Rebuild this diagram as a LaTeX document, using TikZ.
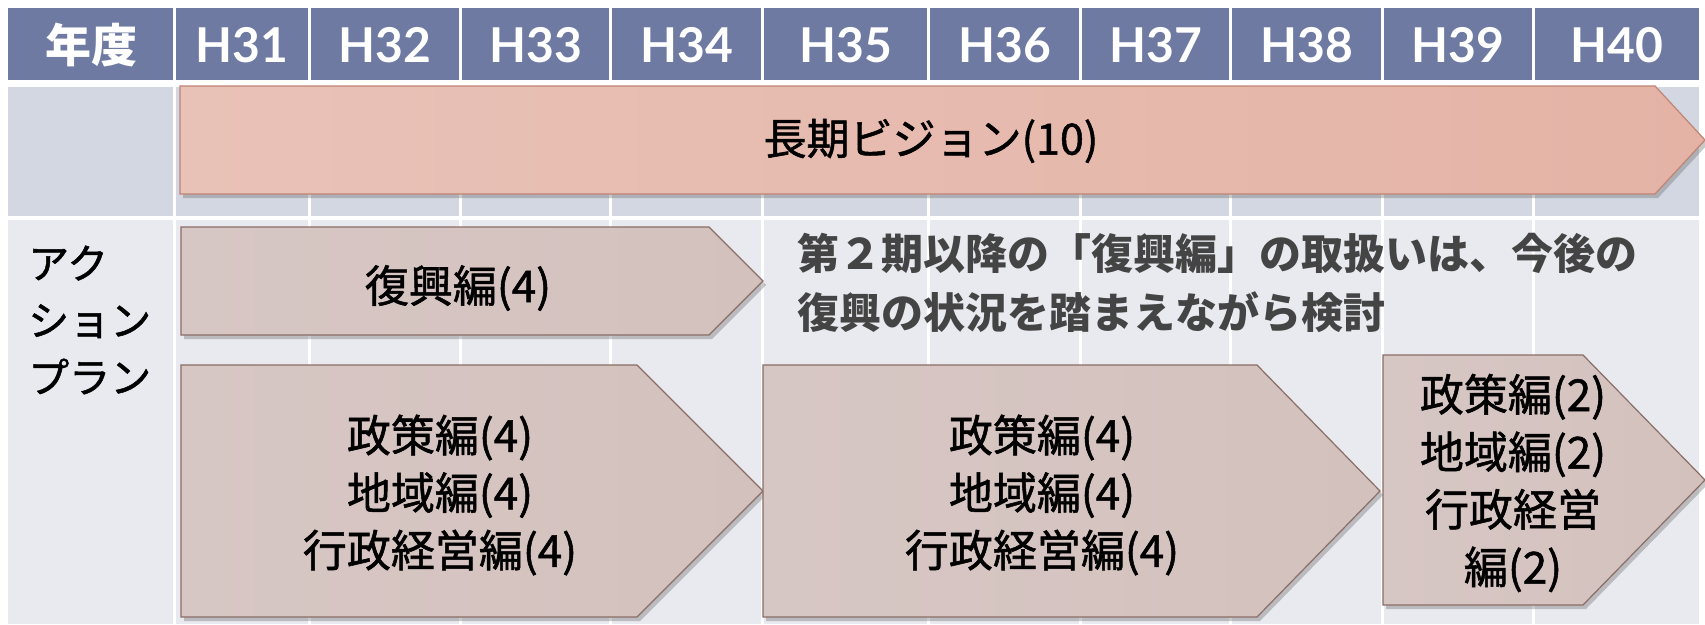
\documentclass[tikz,border=0pt]{standalone}
\usepackage{fontspec}
\usetikzlibrary{shadows}
\newfontfamily\jp{Noto Sans CJK JP}
\newfontfamily\jpm{Noto Sans CJK JP}[FakeBold=1.2]
\newfontfamily\lato{Lato}
\definecolor{hdr}{HTML}{6F7AA2}
\definecolor{rowa}{HTML}{D3D7E1}
\definecolor{rowb}{HTML}{E9EAEF}
\definecolor{visL}{HTML}{E9C2B7}
\definecolor{visM}{HTML}{E1A999}
\definecolor{visR}{HTML}{E4B3A6}
\definecolor{visE}{HTML}{BF8474}
\definecolor{actL}{HTML}{D7C7C4}
\definecolor{actM}{HTML}{C1A8A1}
\definecolor{actR}{HTML}{D3C1BD}
\definecolor{actE}{HTML}{8A6D66}
\definecolor{notec}{HTML}{444444}
\begin{document}
\begin{tikzpicture}[x=1pt,y=-1pt,
  hdrtext/.style={text=white,inner sep=0pt,font={\lato\bfseries\fontsize{48pt}{50pt}\selectfont}},
  hdrjp/.style={text=white,inner sep=0pt,font={\jp\bfseries\fontsize{46pt}{50pt}\selectfont}},
  jptext/.style={text=black,inner sep=0pt,align=center,font={\jpm\fontsize{44pt}{57.5pt}\selectfont}},
  sidetext/.style={text=black,inner sep=0pt,align=left,font={\jpm\fontsize{41pt}{57pt}\selectfont}},
  notetext/.style={text=notec,inner sep=0pt,font={\jp\bfseries\fontsize{42pt}{58pt}\selectfont}},
  visarrow/.style={draw=visE,line width=1.2pt,left color=visL,middle color=visM,right color=visR,
     drop shadow={shadow xshift=3pt,shadow yshift=-4pt,opacity=0.35,fill=black!60}},
  actarrow/.style={draw=actE,line width=1.2pt,left color=actL,middle color=actM,right color=actR,
     drop shadow={shadow xshift=3pt,shadow yshift=-4pt,opacity=0.35,fill=black!60}}]
\useasboundingbox (0,0) rectangle (1705,624);
\fill[white] (0,0) rectangle (1705,624);
% header and background cells
\fill[hdr] (8,8) rectangle (173,80);
\fill[rowa] (8,87) rectangle (173,216);
\fill[rowb] (8,220) rectangle (173,624);
\node[hdrjp] (nendo) at (91,45) {年度};
\foreach \a/\b/\t in {176/308/H31,311/459/H32,462/609/H33,612/761/H34,764/927/H35,930/1079/H36,1082/1229/H37,1232/1381/H38,1384/1532/H39,1535/1699/H40}{
  \fill[hdr] (\a,8) rectangle (\b,80);
  \fill[rowa] (\a,87) rectangle (\b,216);
  \fill[rowb] (\a,220) rectangle (\b,624);
  \node[hdrtext] (\t) at ({(\a+\b)/2},45) {\t};
}
% vision arrow
\draw[visarrow] (180,86) -- (1655,86) -- (1705,140) -- (1655,194) -- (180,194) -- cycle;
\node[jptext,font={\jpm\fontsize{43pt}{50pt}\selectfont}] (vision) at (931,141) {長期ビジョン(10)};
% side label
\node[sidetext,anchor=west] (ap) at (28,320) {アク\\ション\\プラン};
% action plan arrows
\draw[actarrow] (181,227) -- (709,227) -- (763,281) -- (709,335) -- (181,335) -- cycle;
\node[jptext] (fukko) at (458,288) {復興編(4)};
\draw[actarrow] (181,365) -- (637,365) -- (763,491) -- (637,617) -- (181,617) -- cycle;
\node[jptext] (plan1) at (440,495) {政策編(4)\\地域編(4)\\行政経営編(4)};
\draw[actarrow] (763,365) -- (1257,365) -- (1380,491) -- (1257,617) -- (763,617) -- cycle;
\node[jptext] (plan2) at (1042,495) {政策編(4)\\地域編(4)\\行政経営編(4)};
\draw[actarrow] (1383,355) -- (1583,355) -- (1705,480) -- (1583,605) -- (1383,605) -- cycle;
\node[jptext] (plan3) at (1513,483) {政策編(2)\\地域編(2)\\行政経営\\編(2)};
% note
\node[notetext,anchor=west] (note1) at (797,253) {第２期以降の「復興編」の取扱いは、今後の};
\node[notetext,anchor=west] (note2) at (797,312) {復興の状況を踏まえながら検討};
\end{tikzpicture}
\end{document}
